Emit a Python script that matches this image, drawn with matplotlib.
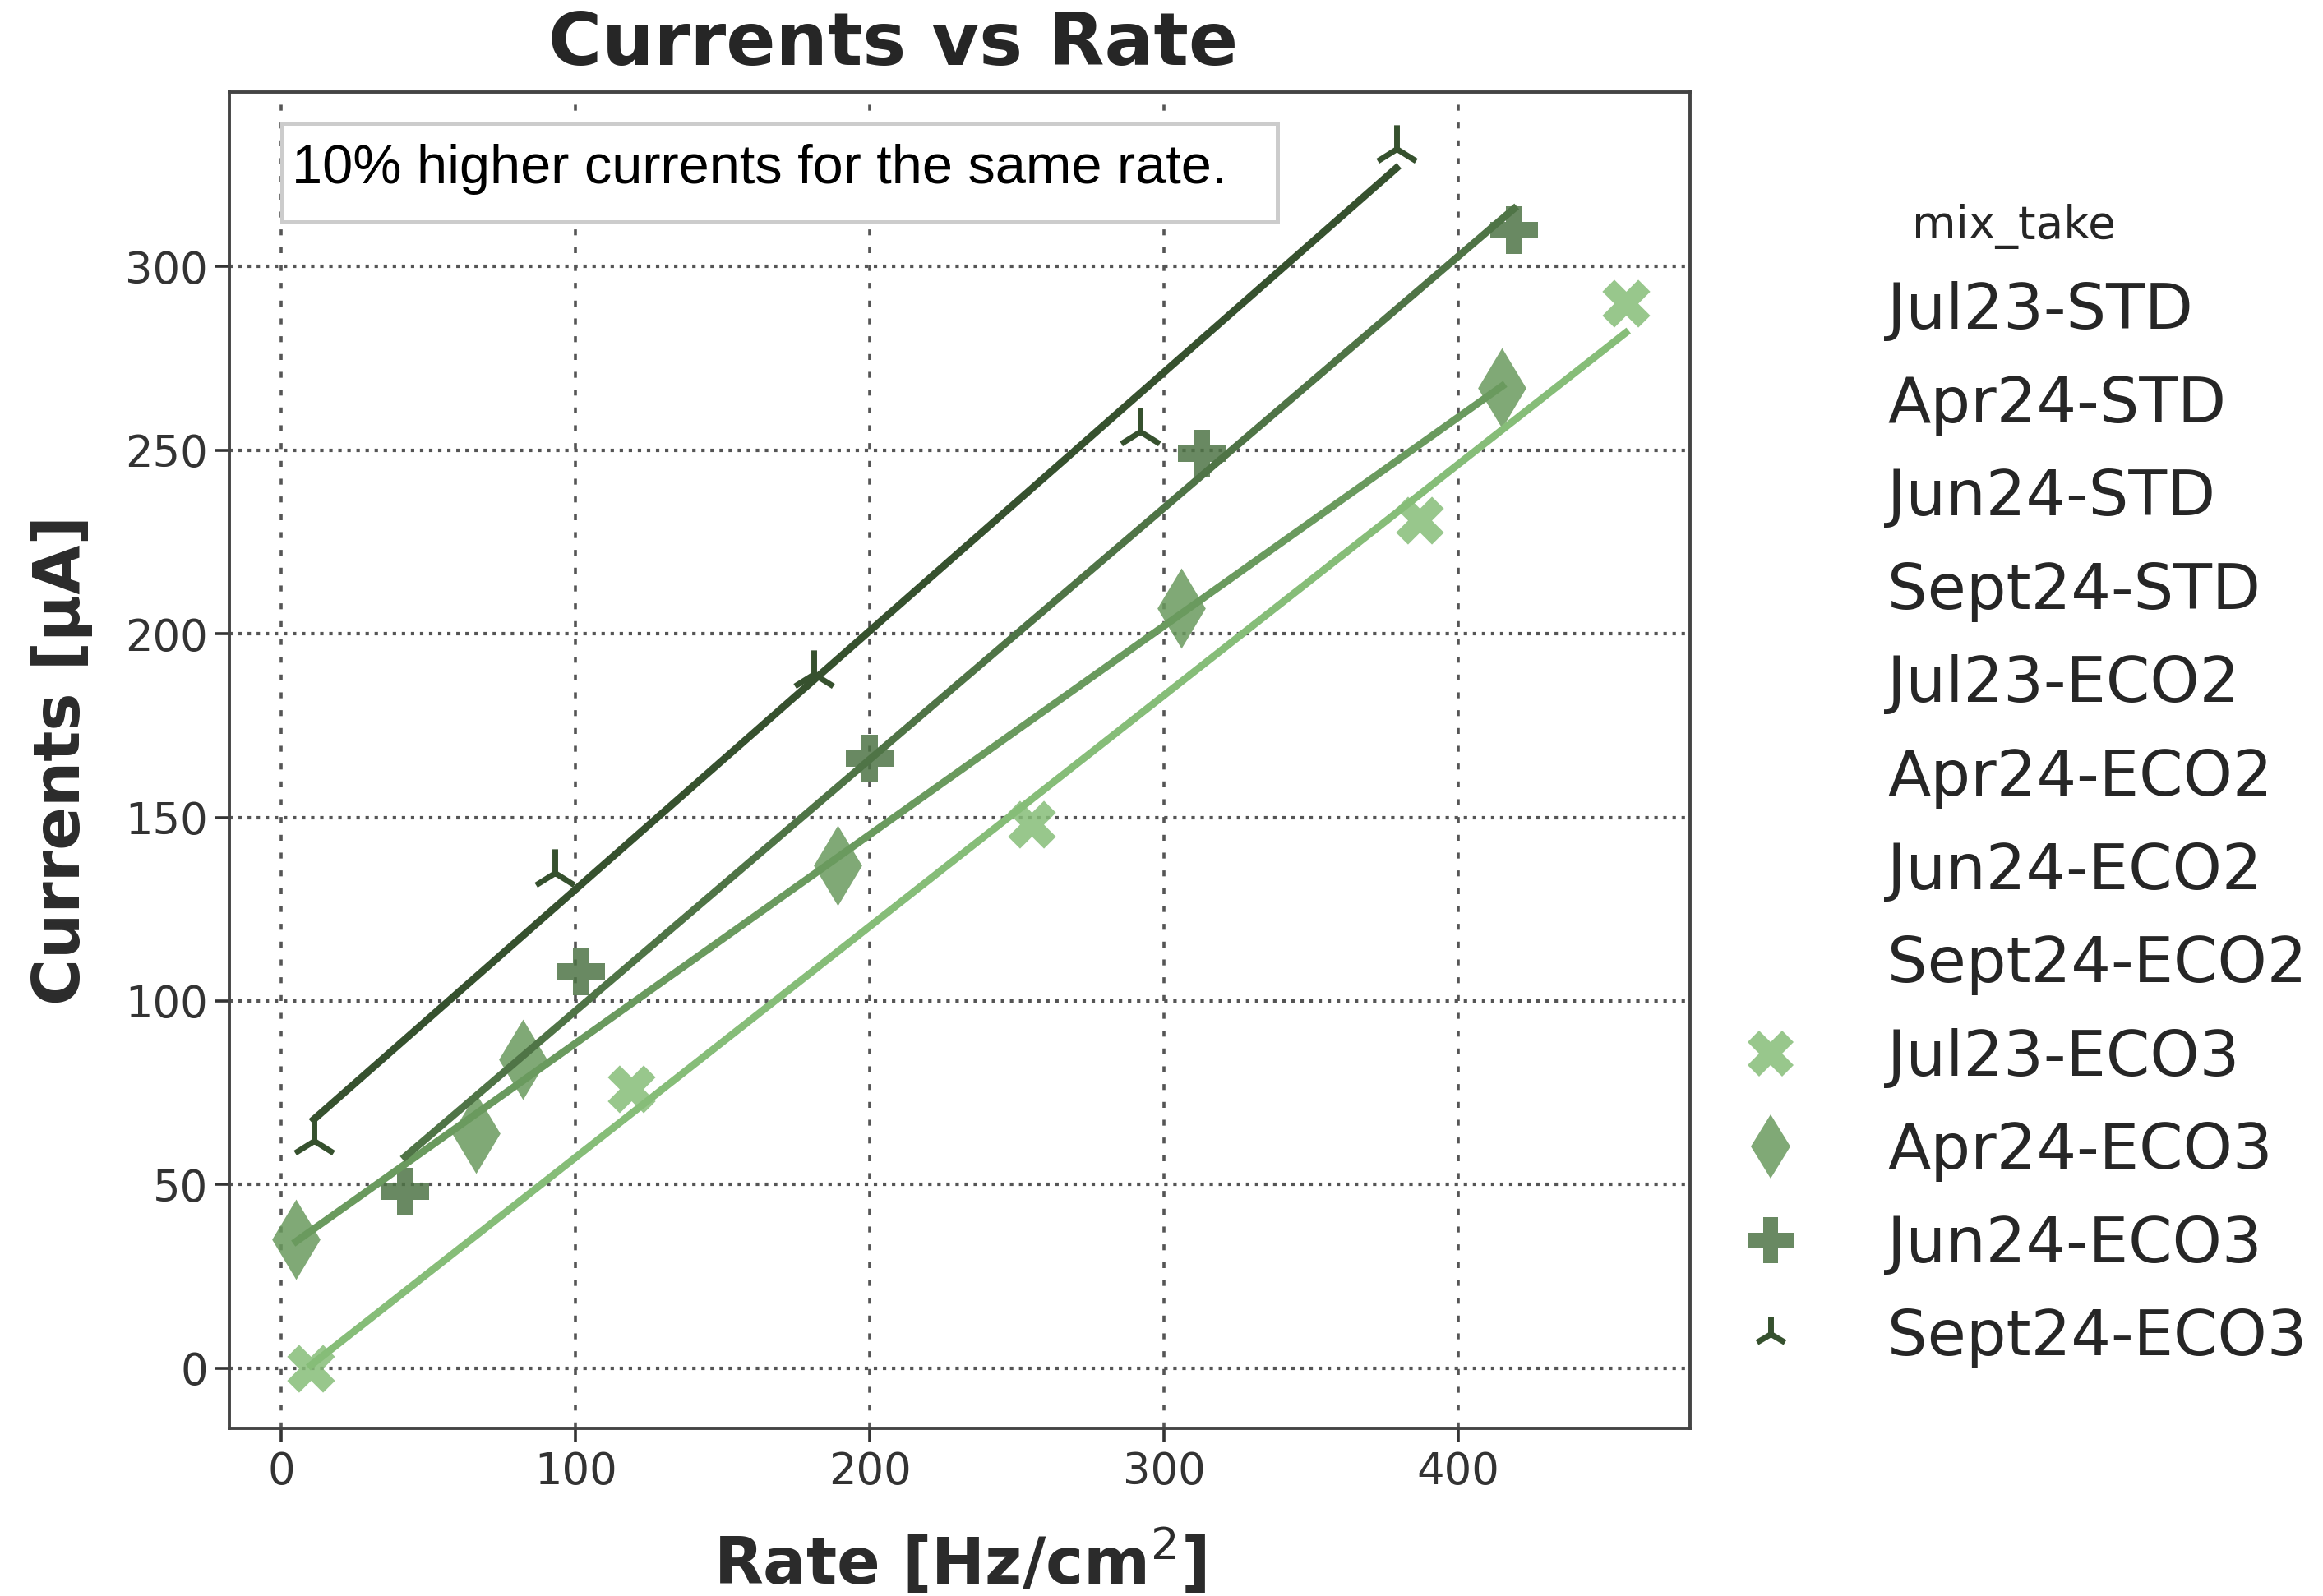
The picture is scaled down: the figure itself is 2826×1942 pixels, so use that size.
import numpy as np
import matplotlib
matplotlib.use("Agg")
import matplotlib.pyplot as plt
from matplotlib.lines import Line2D
from matplotlib.patches import Rectangle

# legend categories (only the ECO3 ones carry data)
mix_take = ['Jul23-STD', 'Apr24-STD', 'Jun24-STD', 'Sept24-STD',
            'Jul23-ECO2', 'Apr24-ECO2', 'Jun24-ECO2', 'Sept24-ECO2',
            'Jul23-ECO3', 'Apr24-ECO3', 'Jun24-ECO3', 'Sept24-ECO3']

# rate [Hz/cm2] and currents [uA]
jul23_rate = [10, 119, 255, 387, 457]
jul23_curr = [0, 76, 148, 231, 290]
apr24_rate = [5, 66, 82, 189, 306, 415]
apr24_curr = [35, 64, 84, 137, 207, 267]
jun24_rate = [42, 102, 200, 313, 419]
jun24_curr = [48, 108, 166, 249, 310]
sept24_rate = [11, 93, 181, 292, 379]
sept24_curr = [62, 135, 189, 255, 332]

series = {
    'Jul23-ECO3': (jul23_rate, jul23_curr, 'X', '#86bd78', 440),
    'Apr24-ECO3': (apr24_rate, apr24_curr, 'd', '#6a9a5e', 620),
    'Jun24-ECO3': (jun24_rate, jun24_curr, 'P', '#4f7446', 440),
    'Sept24-ECO3': (sept24_rate, sept24_curr, '2', '#36512e', 440),
}

plt.rcParams['font.family'] = 'DejaVu Sans'
fig = plt.figure(figsize=(14.13, 9.71), dpi=200)
ax = fig.add_axes([0.0989, 0.1048, 0.6288, 0.8377])

for name, (x, y, mk, col, sz) in series.items():
    x = np.array(x, dtype=float)
    y = np.array(y, dtype=float)
    if mk == '2':
        ax.scatter(x, y, marker=mk, s=sz, color=col, linewidths=2.5, zorder=3)
    else:
        ax.scatter(x, y, marker=mk, s=sz, color=col, alpha=0.85, linewidths=0, zorder=3)
    # linear fit, drawn over the data range like regplot
    m, b = np.polyfit(x, y, 1)
    xx = np.array([x.min(), x.max()])
    ax.plot(xx, m * xx + b, color=col, lw=3.2, zorder=4)

ax.set_xlim(-17.6, 479)
ax.set_ylim(-16.5, 347.6)
ax.set_xticks([0, 100, 200, 300, 400])
ax.set_yticks([0, 50, 100, 150, 200, 250, 300])
ax.xaxis.grid(True, linestyle=(0, (2, 4)), color='#555555', lw=1.3)
ax.yaxis.grid(True, linestyle=':', color='#555555', lw=1.5)
ax.set_axisbelow(True)
ax.tick_params(labelsize=19, colors='#333333', length=6, width=1.3)
for sp in ax.spines.values():
    sp.set_color('#444444')
    sp.set_linewidth(1.4)

ax.set_xlabel('Rate [Hz/cm$^2$]', fontsize=28, fontweight='bold', color='#2b2b2b', labelpad=15)
ax.set_ylabel('Currents [μA]', fontsize=28, fontweight='bold', color='#2b2b2b', labelpad=14)
fig.text(0.3846, 0.972, 'Currents vs Rate', fontsize=32, fontweight='bold',
         color='#262626', ha='center', va='center')

# annotation box
ax.add_patch(Rectangle((0.0355, 0.9025), 0.6815, 0.0742, transform=ax.transAxes,
                       facecolor='white', edgecolor='#cccccc', lw=1.8, zorder=5))
ax.text(0.0426, 0.9420, '10% higher currents for the same rate.', transform=ax.transAxes,
        fontsize=24, family='Liberation Sans', color='black', va='center', zorder=6)

# legend with empty handles for categories without data
handles = []
for name in mix_take:
    if name in series:
        _, _, mk, col, sz = series[name]
        if mk == '2':
            handles.append(Line2D([], [], linestyle='none', marker=mk, color=col,
                                  markersize=15, markeredgewidth=2.5))
        else:
            handles.append(Line2D([], [], linestyle='none', marker=mk, color=col,
                                  markersize=20, alpha=0.85, markeredgewidth=0))
    else:
        handles.append(Line2D([], [], linestyle='none'))
leg = fig.legend(handles, mix_take, title='mix_take', loc='upper left',
                 bbox_to_anchor=(0.716, 0.908), frameon=False, fontsize=27.6,
                 title_fontsize=19.8, labelspacing=0.516, handletextpad=1.06,
                 handlelength=1.6)
for t in leg.get_texts():
    t.set_color('#262626')
leg.get_title().set_color('#262626')

fig.savefig('out.png', dpi=200)
